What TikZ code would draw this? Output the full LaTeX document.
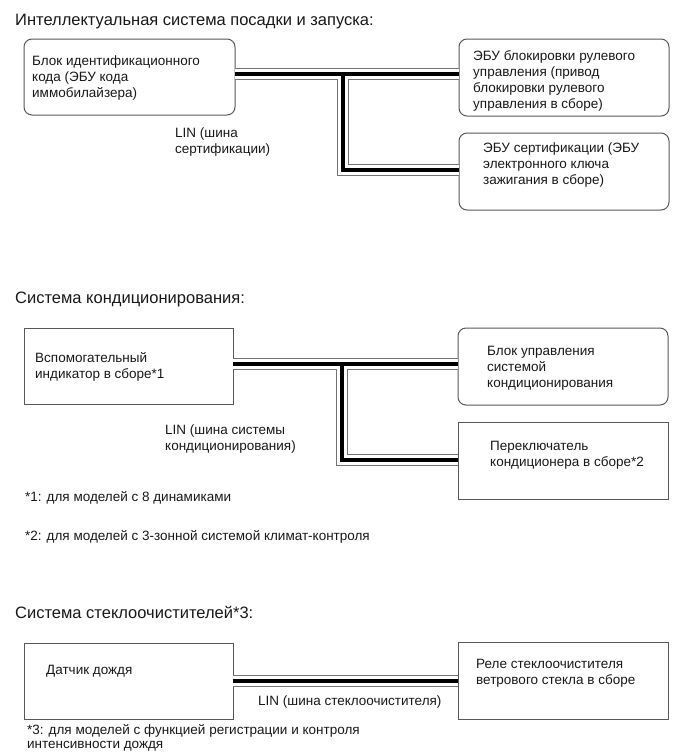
\documentclass[tikz,border=0pt]{standalone}
\usepackage{fontspec}
\setmainfont{Liberation Sans}
\begin{document}
\begin{tikzpicture}[x=1pt,y=-1pt,
  box/.style={draw=black!65, line width=1pt, anchor=north west, inner sep=0pt, outer sep=0pt},
  rbox/.style={box, rounded corners=8pt},
  txt/.style={anchor=west, align=left, inner sep=0pt, font=\fontsize{13.5}{16}\selectfont, text=black!90},
  ttl/.style={anchor=west, inner sep=0pt, font=\fontsize{16.5}{18}\selectfont, text=black!90},
]
\useasboundingbox[fill=white] (0,0) rectangle (689,756);

% ---------- Section 1 ----------
\node[ttl] (h1) at (15,22) {Интеллектуальная система посадки и запуска:};
\node[rbox, minimum width=211pt, minimum height=76pt] (b1) at (24,39) {};
\node[rbox, minimum width=210pt, minimum height=77pt] (b2) at (459,39) {};
\node[rbox, minimum width=210pt, minimum height=77pt] (b3) at (459,133) {};
\node[txt] (t1) at (32,78) {Блок идентификационного\\кода (ЭБУ кода\\иммобилайзера)};
\node[txt] (t2) at (473,80.5) {ЭБУ блокировки рулевого\\управления (привод\\блокировки рулевого\\управления в сборе)};
\node[txt] (t3) at (483,165) {ЭБУ сертификации (ЭБУ\\электронного ключа\\зажигания в сборе)};
\node[txt] (l1) at (175,142) {LIN (шина\\сертификации)};
\coordinate (j1) at (343,74);
\coordinate (k1) at (343,170);

% ---------- Section 2 ----------
\node[ttl] (h2) at (15,299) {Система кондиционирования:};
\node[box, minimum width=209pt, minimum height=76pt] (b4) at (24,328) {};
\node[rbox, minimum width=210pt, minimum height=77pt] (b5) at (458,328) {};
\node[box, minimum width=210pt, minimum height=77pt] (b6) at (458,422) {};
\node[txt] (t4) at (35,367) {Вспомогательный\\индикатор в сборе*1};
\node[txt] (t5) at (487,368) {Блок управления\\системой\\кондиционирования};
\node[txt] (t6) at (490,455) {Переключатель\\кондиционера в сборе*2};
\node[txt] (l2) at (165,439) {LIN (шина системы\\кондиционирования)};
\node[txt] (f1) at (25,498) {*1: для моделей с 8 динамиками};
\node[txt] (f2) at (25,537) {*2: для моделей с 3-зонной системой климат-контроля};
\coordinate (j2) at (342,364);
\coordinate (k2) at (342,460);

% ---------- Section 3 ----------
\node[ttl] (h3) at (15,612) {Система стеклоочистителей*3:};
\node[box, minimum width=209pt, minimum height=76pt] (b7) at (24,643) {};
\node[box, minimum width=210pt, minimum height=77pt] (b8) at (458,642) {};
\node[txt] (t7) at (46,671) {Датчик дождя};
\node[txt] (t8) at (476,673) {Реле стеклоочистителя\\ветрового стекла в сборе};
\node[txt] (l3) at (258,702) {LIN (шина стеклоочистителя)};
\node[txt, font=\fontsize{13.5}{14.5}\selectfont] (f3) at (27,738) {*3: для моделей с функцией регистрации и контроля\\интенсивности дождя};
\coordinate (j3) at (343,681);

% ---------- LIN cables (three layers) ----------
\foreach \w/\c in {12.4/black!55, 10/white, 4/black}{
  \draw[line width=\w pt, draw=\c] (b1.east |- j1) -- (b2.west |- j1);
  \draw[line width=\w pt, draw=\c] (j1) -- (k1) -- (b3.west |- k1);
  \draw[line width=\w pt, draw=\c] (b4.east |- j2) -- (b5.west |- j2);
  \draw[line width=\w pt, draw=\c] (j2) -- (k2) -- (b6.west |- k2);
  \draw[line width=\w pt, draw=\c] (b7.east |- j3) -- (b8.west |- j3);
}
\end{tikzpicture}
\end{document}
